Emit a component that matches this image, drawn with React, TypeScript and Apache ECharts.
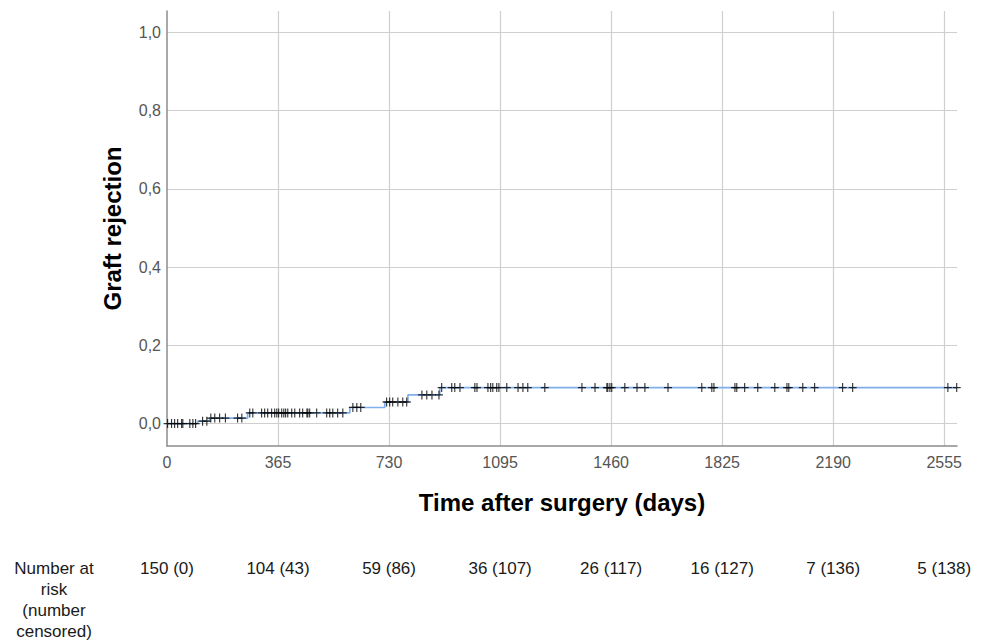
import React, { useEffect, useRef } from "react";
import * as echarts from "echarts";

// Kaplan-Meier style cumulative graft rejection (step changes)
const stepTimes = [0, 101, 140, 265, 601, 716, 792, 897, 2597];
const stepValues = [0, 0.006, 0.014, 0.027, 0.041, 0.055, 0.073, 0.092, 0.092];

// censored observations (days)
const censoredTimes = [
  2, 15, 25, 35, 48, 52, 75, 85, 94,
  117, 131,
  144, 157, 173, 192, 232, 246,
  272, 282, 311, 321, 331, 344, 354, 361, 367, 377, 384, 390, 397, 410, 420, 436, 446, 460, 463, 469, 492, 525, 535, 545, 561, 578,
  611, 624, 637,
  722, 732, 742, 759, 775, 788,
  838, 854, 871, 894,
  903, 936, 946, 963, 1012, 1019, 1055, 1064, 1071, 1084, 1091, 1117, 1154, 1170, 1186, 1242,
  1364, 1407, 1446, 1449, 1456, 1462, 1505, 1545, 1571, 1647, 1758, 1791, 1798, 1867, 1873, 1899,
  1942, 1998, 2038, 2044, 2090, 2129, 2221, 2254, 2567, 2596,
];

const xTicks = [0, 365, 730, 1095, 1460, 1825, 2190, 2555];
const atRiskLabels = ["150 (0)", "104 (43)", "59 (86)", "36 (107)", "26 (117)", "16 (127)", "7 (136)", "5 (138)"];
const yTicks = [0, 0.2, 0.4, 0.6, 0.8, 1.0];

const X_MAX = 2597;
const Y_MIN = -0.0575;
const Y_MAX = 1.055;

function levelAt(t: number): number {
  let v = 0;
  for (let i = 0; i < stepTimes.length; i++) {
    if (stepTimes[i] <= t) v = stepValues[i];
  }
  return v;
}

export default function App() {
  const ref = useRef<HTMLDivElement>(null);
  useEffect(() => {
    if (!ref.current) return;
    const chart = echarts.init(ref.current, null, { renderer: "svg" });
    const font = "'Liberation Sans', Arial, sans-serif";
    const isTick = (v: number) => xTicks.indexOf(Math.round(v)) >= 0 && Math.abs(v - Math.round(v)) < 1e-6;
    const option: any = {
      animation: false,
      backgroundColor: "#ffffff",
      grid: { left: 167, right: 31, top: 11, bottom: 195, containLabel: false },
      xAxis: [
        {
          type: "value",
          min: 0,
          max: X_MAX,
          interval: 365,
          position: "bottom",
          name: "Time after surgery (days)",
          nameLocation: "middle",
          nameGap: 44,
          nameTextStyle: { fontFamily: font, fontSize: 24, fontWeight: "bold", color: "#000" },
          axisLine: { show: true, onZero: false, lineStyle: { color: "#8c8c8c", width: 1.5 } },
          axisTick: { show: false },
          axisLabel: {
            margin: 8,
            fontFamily: font,
            fontSize: 16,
            color: "#555",
            formatter: (v: number) => (isTick(v) ? String(Math.round(v)) : ""),
          },
          splitLine: { show: true, showMinLine: false, showMaxLine: false, lineStyle: { color: "#cfcfcf", width: 1.2 } },
        },
        {
          type: "value",
          min: 0,
          max: X_MAX,
          interval: 365,
          position: "bottom",
          offset: 106,
          axisLine: { show: false, onZero: false },
          axisTick: { show: false },
          splitLine: { show: false },
          axisLabel: {
            margin: 8,
            fontFamily: font,
            fontSize: 17,
            color: "#1a1a1a",
            formatter: (v: number) => {
              const i = xTicks.indexOf(Math.round(v));
              return i >= 0 && Math.abs(v - Math.round(v)) < 1e-6 ? atRiskLabels[i] : "";
            },
          },
        },
      ],
      yAxis: {
        type: "value",
        min: Y_MIN,
        max: Y_MAX,
        name: "Graft rejection",
        nameLocation: "middle",
        nameGap: 43,
        nameTextStyle: { fontFamily: font, fontSize: 24, fontWeight: "bold", color: "#000" },
        axisLine: { show: true, onZero: false, lineStyle: { color: "#8c8c8c", width: 1.5 } },
        axisTick: { show: false },
        axisLabel: {
          margin: 6,
          fontFamily: font,
          fontSize: 16,
          color: "#555",
          formatter: (v: number) => {
            const hit = yTicks.find((t) => Math.abs(t - v) < 1e-6);
            return hit === undefined ? "" : hit.toFixed(1).replace(".", ",");
          },
        },
        splitLine: { show: true, showMinLine: false, showMaxLine: false, lineStyle: { color: "#cfcfcf", width: 1.2 } },
      },
      graphic: [
        {
          type: "text",
          x: 54,
          y: 558,
          style: {
            text: "Number at\nrisk\n(number\ncensored)",
            fontFamily: font,
            fontSize: 17,
            lineHeight: 21,
            fill: "#1a1a1a",
            textAlign: "center",
            align: "center",
          },
        },
      ],
      series: [
        {
          type: "line",
          step: "end",
          xAxisIndex: 0,
          showSymbol: false,
          symbol: "none",
          data: stepTimes.map((t, i) => [t, stepValues[i]]),
          lineStyle: { color: "#80b0ec", width: 1.7 },
          z: 3,
        },
        {
          type: "scatter",
          xAxisIndex: 0,
          symbol: "path://M5,0L5,10M0,5L10,5",
          symbolSize: [8, 9],
          itemStyle: { color: "rgba(0,0,0,0)", borderColor: "#000", borderWidth: 1.2 },
          data: censoredTimes.map((t) => [t, levelAt(t)]),
          z: 4,
        },
      ],
    };
    chart.setOption(option);
    return () => chart.dispose();
  }, []);
  return <div ref={ref} style={{ width: 988, height: 641, position: "absolute", left: 0, top: 0 }} />;
}
